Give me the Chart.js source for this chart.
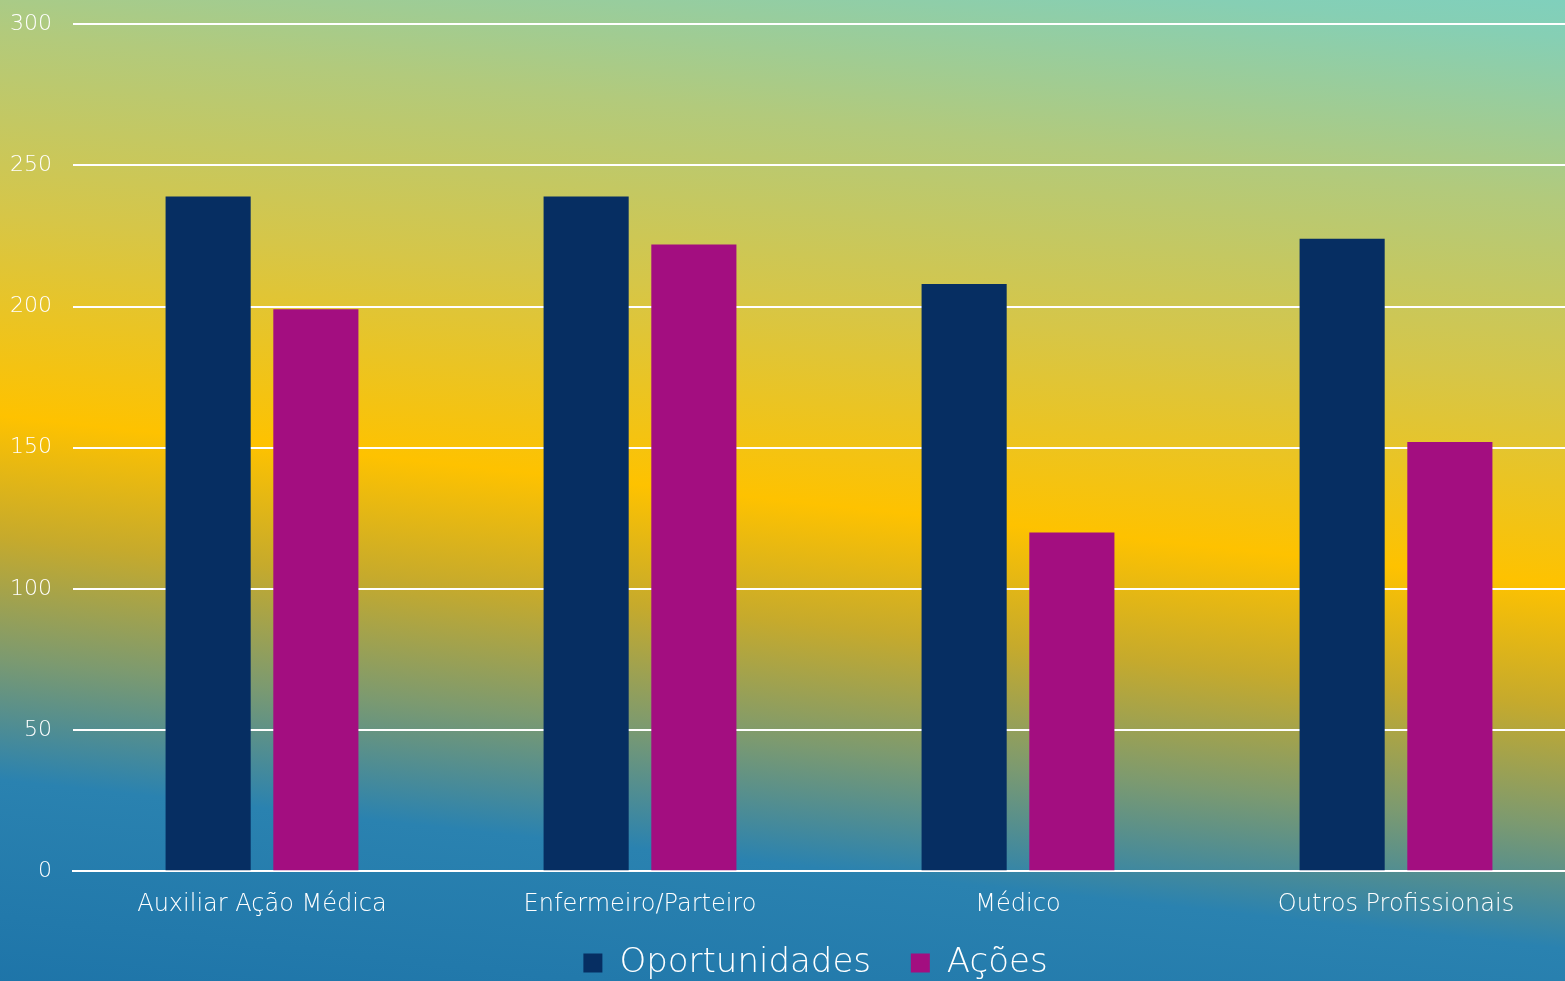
<!DOCTYPE html>
<html>
<head>
<meta charset="utf-8">
<script src="https://cdn.jsdelivr.net/npm/chart.js@4/dist/chart.umd.min.js"></script>
<style>
  html, body { margin: 0; padding: 0; overflow: hidden; background: #1f7bb0; }
  #wrap { width: 1620px; height: 1004px; margin-top: -10px; }
</style>
</head>
<body>
<div id="wrap"><canvas id="chart" width="1620" height="1004"></canvas></div>
<script>
// data
var categories = ['Auxiliar Ação Médica', 'Enfermeiro/Parteiro', 'Médico', 'Outros Profissionais'];
var oportunidades = [239, 239, 208, 224];
var acoes = [199, 222, 120, 152];
var yTicks = [0, 50, 100, 150, 200, 250, 300];

var font = "'DejaVu Sans', sans-serif";

// tilted background gradient, drawn under everything (page coords, canvas is shifted up 10px)
var bgPlugin = {
  id: 'bg',
  beforeDraw: function (chart) {
    var ctx = chart.ctx;
    var y0 = -150, y1 = 1130;
    var g = ctx.createLinearGradient(782 + 0.108 * (490 - y0), y0 + 10, 782 + 0.108 * (490 - y1), y1 + 10);
    function stop(y, c) { g.addColorStop((y - y0) / (y1 - y0), c); }
    stop(-150, '#74d2cc');
    stop(-40, '#86cfb4');
    stop(120, '#b2ca7c');
    stop(300, '#d6c648');
    stop(500, '#fec200');
    stop(620, '#c6aa2c');
    stop(740, '#7c9a70');
    stop(860, '#2a82b0');
    stop(1130, '#1a70a6');
    ctx.save();
    ctx.fillStyle = g;
    ctx.fillRect(0, 0, chart.width, chart.height);
    ctx.restore();
  }
};

// nudge the legend so it sits where the original one is
var legendShift = {
  id: 'legendShift',
  afterLayout: function (chart) {
    if (chart.legend) {
      chart.legend.left += 23; chart.legend.right += 23;
      chart.legend.top -= 4; chart.legend.bottom -= 4;
    }
  }
};

new Chart(document.getElementById('chart'), {
  type: 'bar',
  data: {
    labels: categories,
    datasets: [
      { label: 'Oportunidades', data: oportunidades, backgroundColor: '#062e62', borderWidth: 0 },
      { label: 'Ações', data: acoes, backgroundColor: '#a30e80', borderWidth: 0 }
    ]
  },
  options: {
    responsive: false,
    animation: false,
    datasets: { bar: { categoryPercentage: 0.57, barPercentage: 0.79 } },
    layout: { padding: { left: 0, right: 35, top: 14, bottom: 0 } },
    plugins: {
      tooltip: { enabled: false },
      legend: {
        position: 'bottom',
        labels: {
          color: '#ffffff',
          font: { family: font, size: 34, weight: 200 },
          boxWidth: 19, boxHeight: 19, padding: 12,
          generateLabels: function (chart) {
            var items = Chart.defaults.plugins.legend.labels.generateLabels(chart);
            // a little extra room after the first entry
            items[0].text = items[0].text + '\u2002 ';
            return items;
          }
        }
      }
    },
    scales: {
      x: {
        grid: { display: false, drawTicks: false },
        border: { display: true, color: '#ffffff', width: 2 },
        ticks: { color: '#ffffff', font: { family: font, size: 24, weight: 200 }, padding: 19, maxRotation: 0 }
      },
      y: {
        min: 0, max: 300,
        afterFit: function (s) { s.width = 73; },
        afterBuildTicks: function (s) { s.ticks = yTicks.map(function (v) { return { value: v }; }); },
        grid: { color: '#ffffff', lineWidth: 2, drawTicks: false },
        border: { display: false },
        ticks: { color: '#ffffff', font: { family: font, size: 22, weight: 200 }, padding: 21 }
      }
    }
  },
  plugins: [bgPlugin, legendShift]
});
</script>
</body>
</html>
